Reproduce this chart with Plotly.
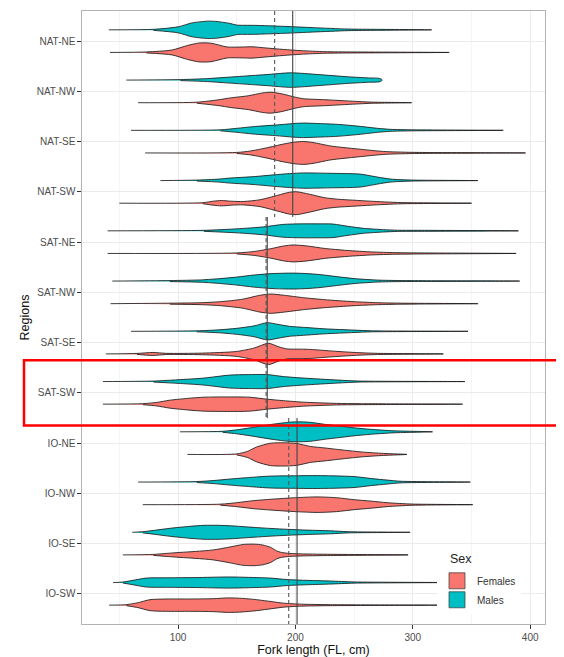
import plotly.graph_objects as go

# ---------------- data ----------------
regions = ["NAT-NE", "NAT-NW", "NAT-SE", "NAT-SW",
           "SAT-NE", "SAT-NW", "SAT-SE", "SAT-SW",
           "IO-NE", "IO-NW", "IO-SE", "IO-SW"]

# fork length knots (cm) and density profile (relative half-width) per region
male_len = [
    [41, 79, 100, 112, 125, 132, 144, 150, 165, 190, 215, 245, 270, 316],
    [56, 102, 125, 150, 175, 196, 220, 245, 262, 272, 274],
    [60, 136, 150, 164, 185, 200, 207, 220, 236, 255, 270, 281, 300, 377],
    [85, 116, 135, 144, 165, 179, 195, 207, 230, 255, 270, 281, 300, 355.5],
    [40, 122, 150, 173, 190, 205, 220, 232, 245, 258, 275, 287, 310, 390],
    [44, 93, 120, 136, 150, 164, 180, 198, 210, 221, 235, 250, 270, 290, 391],
    [60, 116, 135, 150, 165, 176, 185, 195, 207, 225, 250, 265, 347],
    [36, 79, 100, 122, 144, 160, 176, 190, 207, 236, 255, 344.4],
    [101.7, 138, 150, 161.5, 180, 196, 205, 213, 225, 236, 250, 264, 284, 316.8],
    [66, 116, 130, 144, 160, 179, 200, 213, 230, 250, 265, 278, 290, 349],
    [61, 70, 80, 93, 110, 122, 135, 145, 164, 180, 193, 210, 230, 245, 297.7],
    [44.7, 53, 63, 73, 93, 115, 143, 160, 178.6, 193, 210, 230, 250, 327.4],
]
male_dens = [
    [0, 0.5, 3, 7, 8.7, 8.5, 6.5, 4.8, 4.5, 3.5, 2.2, 0.8, 0.5, 0],
    [0, 0.5, 1.5, 3.5, 5.5, 7.3, 5.5, 3.3, 2.2, 1.6, 0],
    [0, 0.5, 2, 3.7, 5.5, 7, 7.3, 6.8, 6, 4, 2, 1, 0.5, 0],
    [0, 0.5, 1.5, 2.5, 4, 5.5, 7, 7.7, 7.3, 6.5, 3.5, 1.5, 0.5, 0],
    [0, 0.5, 2, 4, 6.5, 7, 7, 6.8, 4.5, 2.5, 1.2, 0.6, 0.5, 0],
    [0, 0.5, 1.2, 2.5, 4, 6, 7.5, 8, 7.5, 6.5, 4.5, 2.5, 1, 0.5, 0],
    [0, 0.5, 1.5, 3, 5.5, 8.7, 7, 5, 4, 2.5, 1.2, 0.5, 0],
    [0, 0.5, 1.8, 3.5, 6.5, 7, 7, 5, 3.5, 1.5, 0.5, 0],
    [0, 0.5, 2, 4, 7.5, 9.8, 10, 9.5, 7.5, 6, 4, 2.5, 1, 0],
    [0, 0.5, 1.5, 3, 4.5, 6, 6.3, 6.5, 6.3, 5.5, 3.5, 2, 0.8, 0],
    [0, 0.6, 2, 4, 6, 7, 7, 6.5, 5, 3.8, 3, 2.2, 1.5, 0.6, 0],
    [0, 0.5, 2.5, 4.5, 4.8, 5, 5.6, 5.2, 4.5, 3, 2.2, 1.5, 0.6, 0],
]
female_len = [
    [42, 73, 95, 108, 118, 128, 142, 155, 163, 175, 190, 205, 225, 250, 331],
    [66, 116, 135, 144, 160, 172, 179, 188, 200, 207, 225, 244, 265, 299],
    [72, 150, 162, 175, 190, 200, 207, 215, 230, 253, 275, 300, 396],
    [50, 121, 130, 137, 145, 155.6, 170, 185, 195, 201, 212, 225, 236, 250, 264, 290, 350],
    [40, 150, 165, 180, 190, 198, 210, 225, 244, 265, 285, 310, 388],
    [42.5, 93, 120, 136, 155, 170, 179, 190, 207, 225, 250, 270, 290, 355.6],
    [38.5, 65, 78.6, 90, 120, 150, 165, 177, 186, 193, 205, 213, 230, 250, 270, 326],
    [36, 70, 82, 93, 110, 122, 140, 161, 176, 190, 207, 235, 255, 342.4],
    [108, 150, 159, 167, 178.6, 190, 201, 213, 225, 236, 256, 275, 295],
    [70, 136, 150, 164, 180, 200, 218.5, 235, 250, 265, 278, 300, 351],
    [53, 79, 90, 101.7, 115, 130, 144.4, 155.6, 165, 172, 179, 184, 188, 195, 207, 230, 296],
    [41.3, 56, 66, 76, 90, 110, 130, 143, 155, 167, 180, 190, 205, 230, 327.4],
]
female_dens = [
    [0, 0.5, 2.5, 7, 9.5, 9.3, 5.5, 5.5, 5.7, 4.5, 3, 1.8, 0.8, 0.5, 0],
    [0, 0.5, 3, 4.7, 7, 9.8, 10.5, 9, 5.5, 4, 3, 1.8, 0.6, 0],
    [0, 0.5, 2, 5, 9, 11, 11.5, 10.5, 7, 4, 1.5, 0.6, 0],
    [0, 0.5, 2, 2.7, 2, 1.7, 3.5, 8, 11, 11.5, 9, 5.5, 4, 3, 2, 0.6, 0],
    [0, 0.5, 2, 5, 7.5, 8.5, 7.5, 5, 3, 1.5, 0.8, 0.5, 0],
    [0, 0.5, 1, 2, 4.5, 8.5, 9.7, 8.5, 6, 4, 2, 1, 0.5, 0],
    [0, 0.5, 1.5, 0.6, 0.8, 2.5, 6, 10.7, 7, 5, 4.8, 4.5, 3, 1.5, 0.6, 0],
    [0, 0.5, 1.8, 4, 6, 7, 7.3, 7, 5, 3.5, 2, 0.8, 0.5, 0],
    [0, 0.5, 3, 7.5, 11.2, 11.7, 11, 8, 6.5, 5, 2.5, 1, 0],
    [0, 0.5, 2, 4, 5.5, 7, 7.8, 7, 5, 3.5, 2, 0.6, 0],
    [0, 0.5, 1.5, 2.5, 3.5, 5, 8, 10.5, 10.8, 10, 7.5, 4, 2.5, 1.5, 1, 0.6, 0],
    [0, 0.5, 2.5, 5.5, 6.2, 6.2, 6.5, 7.3, 6.8, 5.5, 3.5, 2, 1, 0.5, 0],
]

# ocean-wide reference lines (cm)
ocean_names = ["NAT", "SAT", "IO"]
ocean_first = [0, 4, 8]
ocean_last = [3, 7, 11]
ref_solid = [197.7, 176.0, 201.4]
ref_dashed = [182.3, 175.0, 194.3]

sex_names = ["Females", "Males"]
sex_colors = {"Females": "#F8766D", "Males": "#00BFC4"}
x_ticks = [100, 200, 300, 400]

# ---------------- layout constants ----------------
# the page body adds an 8px offset, so the figure is 8px smaller than the window
OFF = 8
W, H = 564 - OFF, 657 - OFF
ML, MR, MT, MB = 82 - OFF, 19, 10 - OFF, 31
PW, PH = W - ML - MR, H - MT - MB
Y_RANGE = [11.6, -0.6]
X_RANGE = [18.2, 412.6]
DODGE = 0.225
PX_PER_CAT = PH / (Y_RANGE[0] - Y_RANGE[1])
DENS_SCALE = 1.0 / PX_PER_CAT

fig = go.Figure()


def violin(xs, ds, center, color):
    top_x = list(xs)
    top_y = [center - d * DENS_SCALE for d in ds]
    bx = list(reversed(xs))
    by = [center + d * DENS_SCALE for d in reversed(ds)]
    if ds[-1] == 0:
        bx, by = bx[1:], by[1:]
    if ds[0] == 0:
        bx, by = bx[:-1], by[:-1]
    fig.add_trace(go.Scatter(
        x=top_x + bx, y=top_y + by, mode="lines", fill="toself",
        fillcolor=color, line=dict(color="#1a1a1a", width=0.85, shape="spline", smoothing=0.7),
        hoverinfo="skip", showlegend=False))


for i, reg in enumerate(regions):
    violin(male_len[i], male_dens[i], i - DODGE, sex_colors["Males"])
    violin(female_len[i], female_dens[i], i + DODGE, sex_colors["Females"])

for k in range(len(ocean_names)):
    y0 = Y_RANGE[1] if k == 0 else ocean_first[k] - 0.5
    y1 = Y_RANGE[0] if k == len(ocean_names) - 1 else ocean_last[k] + 0.5
    fig.add_trace(go.Scatter(x=[ref_dashed[k], ref_dashed[k]], y=[y0, y1], mode="lines",
                             line=dict(color="#555555", width=1.1, dash="4px,3px"),
                             hoverinfo="skip", showlegend=False))
    fig.add_trace(go.Scatter(x=[ref_solid[k], ref_solid[k]], y=[y0, y1], mode="lines",
                             line=dict(color="#444444", width=1.1),
                             hoverinfo="skip", showlegend=False))

for s in sex_names:
    fig.add_trace(go.Scatter(x=[None], y=[None], mode="markers", name=s,
                             marker=dict(symbol="square", size=16, color=sex_colors[s],
                                         line=dict(color="#333333", width=0.7))))


def px_x(px):  # window pixel -> paper x
    return (px - OFF - ML) / PW


def px_y(py):  # window pixel -> paper y
    return (OFF + MT + PH - py) / PH


# highlight box around SAT-SW
sat_sw = regions.index("SAT-SW")
fig.add_shape(type="rect", xref="paper", yref="y",
              x0=px_x(24), x1=px_x(562),
              y0=sat_sw - 0.65, y1=sat_sw + 0.65,
              line=dict(color="#FF0000", width=2.5), layer="above")

# legend title
fig.add_annotation(text="Sex", xref="paper", yref="paper", x=px_x(448), y=px_y(561),
                   xanchor="left", yanchor="middle", showarrow=False,
                   font=dict(size=12.5, color="#222222"))

FONT = "Liberation Sans, Arial, Helvetica, sans-serif"
fig.update_layout(
    width=W, height=H,
    margin=dict(l=ML, r=MR, t=MT, b=MB, pad=0),
    paper_bgcolor="white", plot_bgcolor="white",
    font=dict(family=FONT, size=10, color="#4D4D4D"),
    showlegend=True,
    legend=dict(font=dict(size=10, color="#333333"),
                x=px_x(437), y=px_y(568),
                xanchor="left", yanchor="top", bgcolor="white",
                itemsizing="trace", tracegroupgap=0, itemwidth=30),
    xaxis=dict(range=X_RANGE, tickvals=x_ticks, ticks="outside", ticklen=3.5, tickwidth=1,
               tickcolor="#333333", showgrid=True, gridcolor="#EBEBEB", gridwidth=1,
               minor=dict(dtick=50, tick0=0, showgrid=True, gridcolor="#F5F5F5", gridwidth=0.6),
               zeroline=False, showline=True, mirror=True, linecolor="#B3B3B3", linewidth=1.2,
               title=dict(text="Fork length (FL, cm)", font=dict(size=12.5, color="#111111"), standoff=4),
               tickfont=dict(size=10, color="#4D4D4D")),
    yaxis=dict(range=Y_RANGE, tickvals=list(range(len(regions))), ticktext=regions,
               ticks="outside", ticklen=3.5, tickwidth=1, tickcolor="#333333",
               showgrid=True, gridcolor="#EBEBEB", gridwidth=1,
               zeroline=False, showline=True, mirror=True, linecolor="#B3B3B3", linewidth=1.2,
               title=dict(text="Regions", font=dict(size=12.5, color="#111111"), standoff=4),
               tickfont=dict(size=10, color="#4D4D4D")),
)

fig.write_html("out.html")
